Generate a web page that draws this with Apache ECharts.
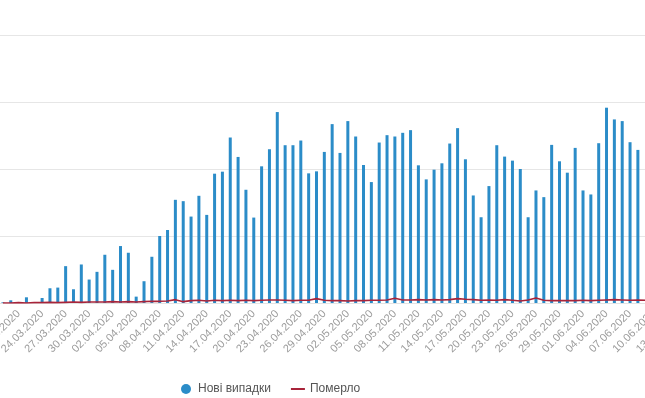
<!DOCTYPE html>
<html>
<head>
<meta charset="utf-8">
<script src="https://cdn.jsdelivr.net/npm/echarts@6/dist/echarts.min.js"></script>
<style>
  html, body { margin: 0; padding: 0; width: 645px; height: 398px; overflow: hidden; background: #fff; }
  /* the chart is wider than the window: left and right parts are cut off like in the picture */
  #chart { position: absolute; left: -40px; top: 0; width: 760px; height: 398px; }
</style>
</head>
<body>
<div id="chart"></div>
<script>
// dates (one bar per day)
var days = [
  '19.03.2020', '20.03.2020', '21.03.2020', '22.03.2020', '23.03.2020', '24.03.2020', '25.03.2020',
  '26.03.2020', '27.03.2020', '28.03.2020', '29.03.2020', '30.03.2020', '31.03.2020', '01.04.2020',
  '02.04.2020', '03.04.2020', '04.04.2020', '05.04.2020', '06.04.2020', '07.04.2020', '08.04.2020',
  '09.04.2020', '10.04.2020', '11.04.2020', '12.04.2020', '13.04.2020', '14.04.2020', '15.04.2020',
  '16.04.2020', '17.04.2020', '18.04.2020', '19.04.2020', '20.04.2020', '21.04.2020', '22.04.2020',
  '23.04.2020', '24.04.2020', '25.04.2020', '26.04.2020', '27.04.2020', '28.04.2020', '29.04.2020',
  '30.04.2020', '01.05.2020', '02.05.2020', '03.05.2020', '04.05.2020', '05.05.2020', '06.05.2020',
  '07.05.2020', '08.05.2020', '09.05.2020', '10.05.2020', '11.05.2020', '12.05.2020', '13.05.2020',
  '14.05.2020', '15.05.2020', '16.05.2020', '17.05.2020', '18.05.2020', '19.05.2020', '20.05.2020',
  '21.05.2020', '22.05.2020', '23.05.2020', '24.05.2020', '25.05.2020', '26.05.2020', '27.05.2020',
  '28.05.2020', '29.05.2020', '30.05.2020', '31.05.2020', '01.06.2020', '02.06.2020', '03.06.2020',
  '04.06.2020', '05.06.2020', '06.06.2020', '07.06.2020', '08.06.2020', '09.06.2020', '10.06.2020',
  '11.06.2020', '12.06.2020', '13.06.2020'
]

// Нові випадки
var newCases = [
  2, 8, 0, 17, 0, 15, 44, 46, 110, 41, 115, 70, 93, 144,
  99, 170, 150, 19, 65, 138, 200, 218, 308, 304, 258, 320, 263, 386,
  392, 494, 436, 338, 255, 408, 459, 570, 471, 471, 485, 387, 393, 451,
  534, 448, 543, 497, 412, 361, 479, 501, 497, 508, 516, 411, 369, 398,
  417, 476, 522, 429, 321, 256, 349, 471, 437, 425, 400, 256, 336, 316,
  472, 423, 389, 463, 336, 324, 477, 583, 548, 543, 480, 457,
  null, null, null, null, null
]

// Померло
var deaths = [
  0, 0, 1, 0, 1, 1, 2, 1, 2, 3, 2, 3, 3, 3,
  4, 3, 4, 3, 4, 5, 5, 6, 10, 4, 7, 8, 6, 8,
  7, 8, 7, 8, 7, 8, 9, 9, 8, 7, 8, 8, 13, 8,
  7, 7, 6, 7, 7, 8, 8, 9, 14, 9, 9, 10, 9, 10,
  9, 10, 13, 11, 10, 8, 9, 8, 10, 8, 6, 9, 15, 8,
  7, 7, 7, 7, 8, 7, 8, 9, 10, 9, 8, 9,
  8, null, null, null, null
]

var yTicks = { min: 0, max: 800, interval: 200 }

var chart = echarts.init(document.getElementById('chart'))

chart.setOption({
  animation: false,
  textStyle: { fontFamily: 'Liberation Sans, Arial, sans-serif' },
  grid: { left: 39, top: 35, width: 682, height: 268 },
  legend: {
    left: 216,
    top: 378,
    itemWidth: 14,
    itemHeight: 10,
    itemGap: 20,
    textStyle: { color: '#555', fontSize: 12 },
    data: [
      { name: 'Нові випадки', icon: 'circle' },
      // plain line, no marker
      { name: 'Померло', icon: 'path://M0,0 L14,0 L14,2 L0,2 Z' }
    ]
  },
  xAxis: {
    type: 'category',
    data: days,
    axisTick: { show: false },
    axisLine: { lineStyle: { color: '#e3e3e3' } },
    axisLabel: {
      rotate: 45,
      margin: 9,
      color: '#9b9b9b',
      fontSize: 11,
      interval: function (i) { return (i - 2) % 3 === 0 }
    }
  },
  yAxis: {
    type: 'value',
    min: yTicks.min,
    max: yTicks.max,
    interval: yTicks.interval,
    axisLabel: { color: '#9b9b9b' },
    splitLine: { lineStyle: { color: '#e6e6e6' } }
  },
  series: [
    {
      name: 'Нові випадки',
      type: 'bar',
      data: newCases,
      barWidth: 3,
      itemStyle: { color: '#2b8cc8' }
    },
    {
      name: 'Померло',
      type: 'line',
      data: deaths,
      symbol: 'none',
      lineStyle: { color: '#a8243a', width: 1.6 },
      itemStyle: { color: '#a8243a' }
    }
  ]
})
</script>
</body>
</html>
